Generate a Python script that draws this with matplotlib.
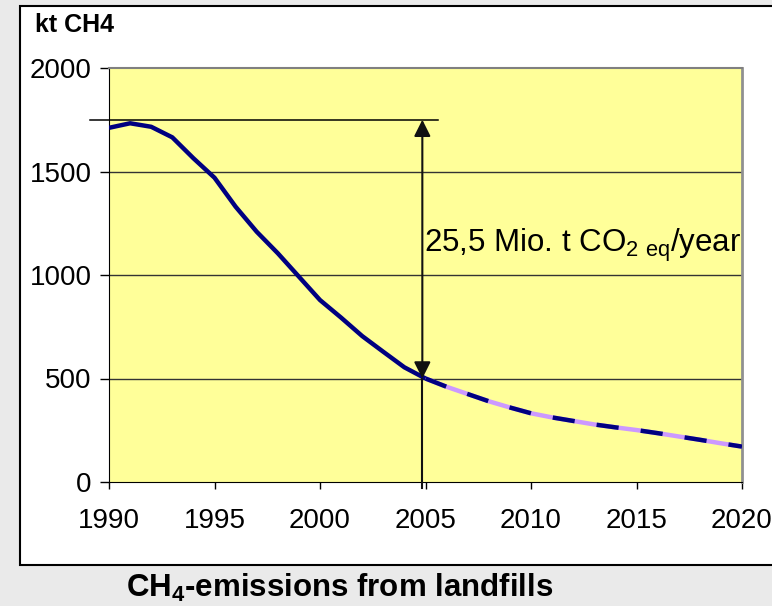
import matplotlib
matplotlib.use("Agg")
import matplotlib.pyplot as plt
from matplotlib.patches import Rectangle

plt.rcParams['font.family'] = ['Liberation Sans', 'DejaVu Sans']
plt.rcParams['mathtext.fontset'] = 'custom'
plt.rcParams['mathtext.rm'] = 'Liberation Sans'

# CH4 emissions from landfills, kt per year
years = list(range(1990, 2021))
emissions = [1711, 1733, 1716, 1665, 1564, 1470, 1330, 1209, 1105, 992,
             879, 794, 705, 629, 554, 500, 460, 425, 390, 360,
             332, 312, 295, 278, 264, 251, 236, 220, 204, 187, 171]
split_year = 2005          # measured values up to here, projection after
ref_level = 1750           # emission level the reduction is measured from
ref_year = 2004.85
reduction_text = "25,5 Mio. t CO$\\mathregular{_{2\\ eq}}$/year"

x_ticks = list(range(1990, 2021, 5))
y_ticks = [0, 500, 1000, 1500, 2000]

fig = plt.figure(figsize=(7.72, 6.06), dpi=100)
fig.patch.set_facecolor('#eaeaea')

# white chart box
fig.patches.append(Rectangle((20 / 772, 41 / 606), 0.99, 559 / 606,
                             transform=fig.transFigure, facecolor='white',
                             edgecolor='black', linewidth=1.5, zorder=-10))

ax = fig.add_axes([109 / 772, 124 / 606, 633 / 772, 414 / 606])
ax.set_facecolor('#ffff99')

i = years.index(split_year)
ax.plot(years[:i + 1], emissions[:i + 1], color='#000080', lw=3.2,
        solid_capstyle='butt', zorder=4)
ax.plot(years[i:], emissions[i:], color='#cc99ff', lw=3.2,
        solid_capstyle='butt', zorder=4)
ax.plot(years[i:], emissions[i:], color='#000080', lw=3.2,
        dashes=(5, 5), dash_capstyle='butt', zorder=5)

for v in y_ticks[1:-1]:
    ax.axhline(v, color='#333333', lw=1.0, zorder=1)

# reference level and reduction arrow
ax.plot([1989.1, 2005.6], [ref_level, ref_level], color='black', lw=1.1,
        clip_on=False, zorder=3)
ax.plot([ref_year, ref_year], [emissions[i], -30], color='#111111', lw=1.5,
        clip_on=False, zorder=6)
ax.annotate('', xy=(ref_year, ref_level), xytext=(ref_year, emissions[i]),
            arrowprops=dict(arrowstyle='<|-|>,head_length=0.5,head_width=0.25',
                            color='#111111', lw=1.5, mutation_scale=20,
                            shrinkA=0, shrinkB=0), zorder=6)
ax.text(2004.95, 1112, reduction_text, fontsize=22.5, va='baseline', ha='left',
        zorder=7)

ax.set_xlim(1990, 2020)
ax.set_ylim(0, 2000)
ax.set_xticks(x_ticks)
ax.set_yticks(y_ticks)
ax.tick_params(axis='y', direction='out', length=6.5, width=1, pad=6,
               labelsize=20)
ax.tick_params(axis='x', direction='out', length=5, width=1, pad=14,
               labelsize=20)

ax.spines['left'].set_color('black')
ax.spines['bottom'].set_color('black')
ax.spines['top'].set_color('#808080')
ax.spines['top'].set_linewidth(1.5)
ax.spines['right'].set_color('#909090')
ax.spines['right'].set_linewidth(2)

fig.text(35 / 772, 1 - 25 / 606, 'kt CH4', fontsize=18, fontweight='bold',
         ha='left', va='center')
fig.text(340 / 772, 1 - 588 / 606, 'CH$\\mathregular{_4}$-emissions from landfills',
         fontsize=22.5, fontweight='bold', ha='center', va='center')

fig.savefig('out.png', dpi=100, facecolor=fig.get_facecolor())
